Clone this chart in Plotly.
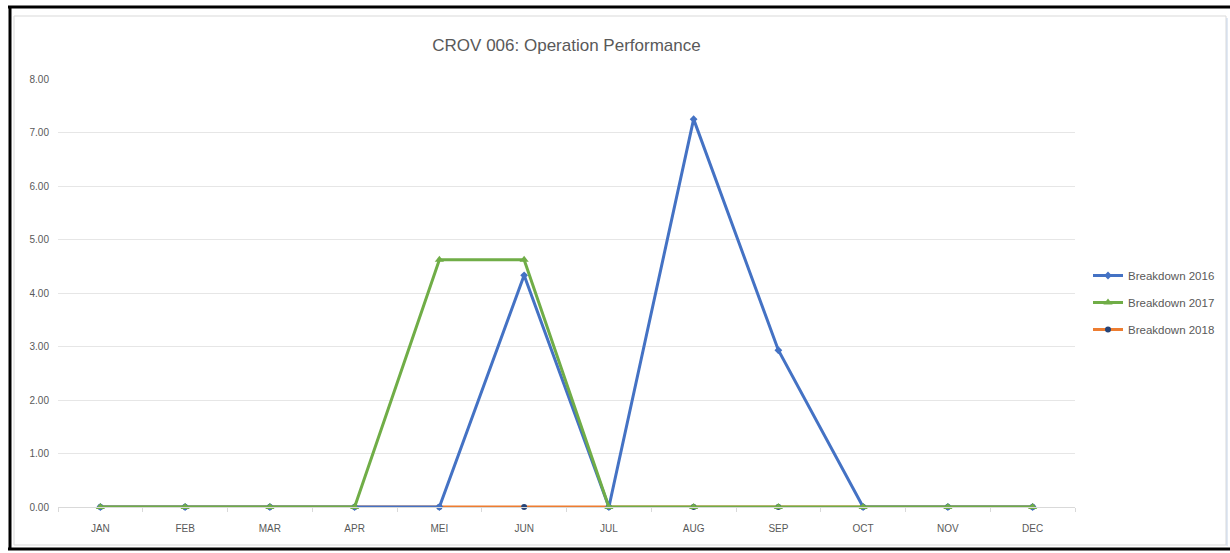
import plotly.graph_objects as go

months = ["JAN", "FEB", "MAR", "APR", "MEI", "JUN", "JUL", "AUG", "SEP", "OCT", "NOV", "DEC"]
breakdown_2016 = [0, 0, 0, 0, 0, 4.33, 0, 7.25, 2.93, 0, 0, 0]
breakdown_2017 = [0, 0, 0, 0, 4.62, 4.62, 0, 0, 0, 0, 0, 0]
breakdown_2018 = [0, 0, 0, 0, 0, 0, 0, 0, 0, 0, 0, 0]
y_ticks = [0, 1, 2, 3, 4, 5, 6, 7, 8]
y_labels = ["0.00", "1.00", "2.00", "3.00", "4.00", "5.00", "6.00", "7.00", "8.00"]

W, H = 1230, 553
L, R, T, B = 58, 1075, 79, 507

def px(x):
    return (x - L) / (R - L)

def py(y):
    return (B - y) / (B - T)

font = "Liberation Sans Narrow, Liberation Sans, Arial, sans-serif"

fig = go.Figure()
fig.add_trace(go.Scatter(x=months, y=breakdown_2018, name="Breakdown 2018", mode="lines+markers",
                         line=dict(color="#ED7D31", width=3),
                         marker=dict(symbol="circle", size=6, color="#264478"),
                         legendrank=3, legendgroup="c", cliponaxis=False))
fig.add_trace(go.Scatter(x=months, y=breakdown_2016, name="Breakdown 2016", mode="lines+markers",
                         line=dict(color="#4472C4", width=3),
                         marker=dict(symbol="diamond", size=6, color="#4472C4"),
                         legendrank=1, legendgroup="a", cliponaxis=False))
fig.add_trace(go.Scatter(x=months, y=breakdown_2017, name="Breakdown 2017", mode="lines+markers",
                         line=dict(color="#70AD47", width=3),
                         marker=dict(symbol="triangle-up", size=8, color="#70AD47"),
                         legendrank=2, legendgroup="b", cliponaxis=False))

shapes = [
    # outer chart border (light grey)
    dict(type="rect", xref="paper", yref="paper", x0=px(14), x1=px(1226), y0=py(545), y1=py(16),
         line=dict(color="#D9D9D9", width=1), layer="below"),
    # black screenshot frame
    dict(type="line", xref="paper", yref="paper", x0=px(8), x1=px(1230), y0=py(7), y1=py(7),
         line=dict(color="#000000", width=3)),
    dict(type="line", xref="paper", yref="paper", x0=px(10), x1=px(10), y0=py(6), y1=py(550),
         line=dict(color="#000000", width=3)),
    dict(type="line", xref="paper", yref="paper", x0=px(8), x1=px(1230), y0=py(549), y1=py(549),
         line=dict(color="#000000", width=3)),
    dict(type="line", xref="paper", yref="paper", x0=px(1227), x1=px(1227), y0=py(18), y1=py(546),
         line=dict(color="#C5D3E8", width=1)),
]

fig.update_layout(
    width=W, height=H,
    margin=dict(l=L, r=W - R, t=T, b=H - B, autoexpand=False),
    paper_bgcolor="white", plot_bgcolor="white",
    title=dict(text="CROV 006: Operation Performance", x=0.5, xref="paper", xanchor="center",
               y=1 - 45 / H, yanchor="middle",
               font=dict(family=font, size=17, color="#595959")),
    font=dict(family=font, color="#595959"),
    showlegend=True,
    legend=dict(x=px(1088), y=py(261), xanchor="left", yanchor="top",
                font=dict(size=11.5, color="#595959"), itemwidth=30, tracegroupgap=8,
                bgcolor="rgba(0,0,0,0)"),
    shapes=shapes,
)
fig.update_xaxes(type="category", categoryorder="array", categoryarray=months,
                 range=[-0.5, len(months) - 0.5], autorange=False,
                 showgrid=False, showline=True, linecolor="#D9D9D9", linewidth=1,
                 ticks="outside", tickson="boundaries", ticklen=4, tickcolor="#D9D9D9",
                 tickfont=dict(size=10, color="#595959"), zeroline=False,
                 ticklabelstandoff=12)
fig.update_yaxes(range=[0, 8], tickvals=y_ticks, ticktext=y_labels,
                 showgrid=True, gridcolor="#E6E6E6", gridwidth=1, zeroline=False,
                 showline=False, ticks="", tickfont=dict(size=10, color="#595959"),
                 ticklabelstandoff=8)

fig.write_html("out.html", config={"displayModeBar": False},
               post_script="document.body.style.margin='0';document.body.style.overflow='hidden';")
